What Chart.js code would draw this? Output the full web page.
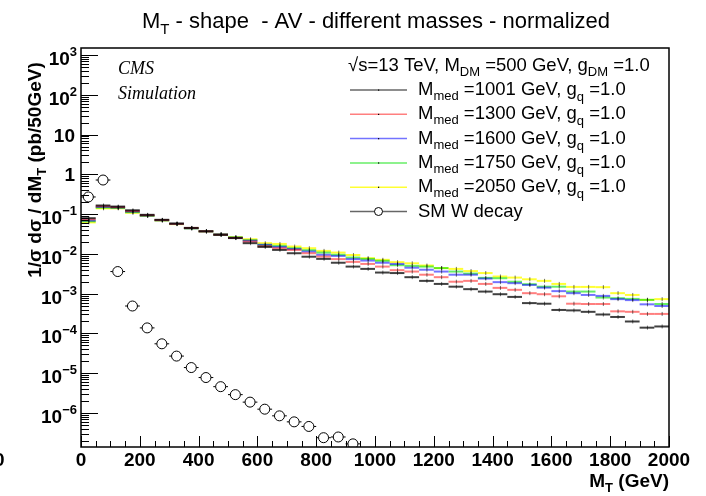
<!DOCTYPE html>
<html><head><meta charset="utf-8">
<script src="https://cdn.jsdelivr.net/npm/chart.js@4/dist/chart.umd.min.js"></script>
<style>html,body{margin:0;padding:0;background:#fff;overflow:hidden}canvas{display:block}</style>
</head><body>
<canvas id="c" width="706" height="496"></canvas>
<script>
// ---------- DATA ----------
const binCenters = [25,75,125,175,225,275,325,375,425,475,525,575,625,675,725,775,825,875,925,975,
  1025,1075,1125,1175,1225,1275,1325,1375,1425,1475,1525,1575,1625,1675,1725,1775,1825,1875,1925,1975];

const mmed1001 = [0.079,0.165,0.155,0.125,0.096,0.072,0.058,0.045,0.037,0.030,0.025,0.0186,0.015,0.0126,0.0104,0.0085,
  0.0075,0.0060,0.0048,0.0042,0.0034,0.0033,0.0026,0.0021,0.00176,0.0015,0.0013,0.00113,0.00097,0.00083,
  0.00058,0.00056,0.00039,0.00038,0.00035,0.00030,0.00026,0.00020,0.00014,0.00015];
const mmed1300 = [0.074,0.158,0.150,0.120,0.094,0.071,0.057,0.045,0.037,0.0305,0.0252,0.0204,0.0156,0.0139,0.0126,0.0104,
  0.00855,0.0074,0.0063,0.0056,0.0048,0.0039,0.0036,0.0030,0.0026,0.0020,0.0021,0.00176,0.0014,0.00125,
  0.00103,0.00097,0.00086,0.00056,0.00055,0.00055,0.00036,0.00035,0.00031,0.00031];
const mmed1600 = [0.069,0.152,0.147,0.116,0.092,0.070,0.057,0.044,0.037,0.031,0.0255,0.0215,0.017,0.015,0.0132,0.0115,
  0.0095,0.0089,0.0074,0.0068,0.0060,0.0056,0.0045,0.0040,0.0036,0.0030,0.0030,0.0024,0.00195,0.00184,
  0.00166,0.00142,0.00116,0.00103,0.00093,0.00088,0.00073,0.00069,0.00054,0.00049];
const mmed1750 = [0.066,0.146,0.143,0.112,0.091,0.070,0.057,0.044,0.037,0.031,0.026,0.022,0.0168,0.0159,0.0139,0.0124,
  0.0108,0.0095,0.0081,0.0075,0.0067,0.0052,0.0050,0.0048,0.0044,0.0036,0.0032,0.0025,0.00245,0.0020,
  0.00173,0.0015,0.0015,0.00113,0.00113,0.0008,0.00077,0.00074,0.0007,0.00055];
const mmed2050 = [0.062,0.140,0.140,0.108,0.090,0.069,0.056,0.044,0.037,0.031,0.0265,0.0234,0.0186,0.0178,0.0153,0.0139,
  0.0119,0.0108,0.0094,0.0078,0.0071,0.0062,0.0058,0.0051,0.0044,0.0042,0.0037,0.0033,0.0027,0.00254,
  0.0023,0.0021,0.00176,0.00148,0.00148,0.00146,0.00103,0.00093,0.0007,0.00073];

const smCenters = [25,75,125,175,225,275,325,375,425,475,525,575,625,675,725,775,825,875,925];
const smWdecay = [0.27,0.72,0.0036,0.00049,0.000138,5.5e-5,2.7e-5,1.39e-5,7.8e-6,4.6e-6,2.9e-6,1.88e-6,1.25e-6,
  8.5e-7,6.0e-7,4.6e-7,2.4e-7,2.5e-7,1.68e-7];

const seriesLabels = ['=1001 GeV, g', '=1300 GeV, g', '=1600 GeV, g', '=1750 GeV, g', '=2050 GeV, g'];
const xTickValues = [0,200,400,600,800,1000,1200,1400,1600,1800,2000];
const xTickLabels = ['0','200','400','600','800','1000','1200','1400','1600','1800','2000'];
const yTickValues = [1e-6,1e-5,1e-4,1e-3,1e-2,1e-1,1,10,100,1000];
const yTickBase   = ['10','10','10','10','10','10','1','10','10','10'];
const yTickExp    = ['\u22126','\u22125','\u22124','\u22123','\u22122','\u22121','','','2','3'];

const binWidth = 50;
const colors = ['rgba(0,0,0,0.75)','rgba(255,0,0,0.5)','rgba(0,0,255,0.55)','rgba(0,225,0,0.6)','rgba(255,255,0,0.8)'];
const legendColors = ['rgba(0,0,0,0.6)','rgba(255,0,0,0.5)','rgba(0,0,255,0.55)','rgba(0,225,0,0.6)','rgba(255,255,0,0.8)'];
const seriesData = [mmed1001, mmed1300, mmed1600, mmed1750, mmed2050];

// ---------- HELPERS ----------
const SANS = '"Liberation Sans", Arial, Helvetica, sans-serif';
const SERIF = '"Liberation Serif", "Times New Roman", serif';
function richWidth(ctx, parts){ let w=0; for(const p of parts){ ctx.font=p.f; w+=ctx.measureText(p.t).width; } return w; }
function drawRich(ctx, parts, x, y, align){
  const w = richWidth(ctx, parts);
  let cx = align==='right' ? x-w : (align==='center' ? x-w/2 : x);
  ctx.textAlign='left'; ctx.textBaseline='alphabetic';
  for(const p of parts){ ctx.font=p.f; ctx.fillText(p.t, cx, y+(p.dy||0)); cx+=ctx.measureText(p.t).width; }
}
const halfBin = (c) => { const s=c.chart.scales.x; return (s.getPixelForValue(binWidth)-s.getPixelForValue(0))/2; };

// ---------- DATASETS ----------
const datasets = [];
datasets.push({ label:'SM W decay', data: smCenters.map((x,i)=>({x, y: smWdecay[i]})),
  pointStyle:'circle', pointRadius:5, pointBackgroundColor:'#fff', pointBorderColor:'#000', pointBorderWidth:1, showLine:false });
datasets.push({ label:'SM W stub', data: smCenters.map((x,i)=>({x, y: smWdecay[i]})),
  pointStyle:'line', pointRadius: halfBin, pointBorderColor:'#000', pointBorderWidth:1, showLine:false });
seriesData.forEach((arr, k) => {
  datasets.push({ label: seriesLabels[k], data: binCenters.map((x,i)=>({x, y: arr[i]})), isSignal:true,
    pointStyle:'line', pointRadius: halfBin, pointBorderColor: colors[k], pointBackgroundColor: colors[k],
    pointBorderWidth:2, showLine:false });
});

// ---------- PLUGIN ----------
const rootPlugin = {
  id:'rootStyle',
  afterDatasetsDraw(chart){
    const ctx = chart.ctx; const ca = chart.chartArea;
    ctx.save();
    ctx.beginPath(); ctx.rect(ca.left, ca.top, ca.right-ca.left, ca.bottom-ca.top); ctx.clip();
    chart.data.datasets.forEach((ds, di) => {
      if(!ds.isSignal) return;
      const meta = chart.getDatasetMeta(di);
      meta.data.forEach(pt => {
        ctx.strokeStyle='rgba(0,0,0,0.55)'; ctx.lineWidth=1;
        ctx.beginPath(); ctx.moveTo(pt.x+0.5, pt.y-2); ctx.lineTo(pt.x+0.5, pt.y+2); ctx.stroke();
      });
    });
    ctx.restore();
  },
  afterDraw(chart){
    const ctx = chart.ctx; const ca = chart.chartArea;
    const xs = chart.scales.x, ys = chart.scales.y;
    ctx.save();
    ctx.fillStyle='#000'; ctx.strokeStyle='#000';
    // frame
    ctx.lineWidth=1.5;
    ctx.strokeRect(ca.left, ca.top, ca.right-ca.left, ca.bottom-ca.top);
    // x ticks
    ctx.lineWidth=1;
    ctx.beginPath();
    for(let v=0; v<=2000; v+=50){
      const px = Math.round(xs.getPixelForValue(v))+0.5;
      const len = (v%200===0) ? 11 : 6;
      ctx.moveTo(px, ca.bottom); ctx.lineTo(px, ca.bottom-len);
    }
    // y ticks
    for(let e=-7; e<=3; e++){
      for(let k=1; k<=9; k++){
        const v = k*Math.pow(10,e);
        if(v < ys.min || v > ys.max) continue;
        const py = Math.round(ys.getPixelForValue(v))+0.5;
        const len = (k===1) ? 17 : 8;
        ctx.moveTo(ca.left, py); ctx.lineTo(ca.left+len, py);
      }
    }
    ctx.stroke();
    // x tick labels
    const B19 = 'bold 19px '+SANS, B13 = 'bold 13px '+SANS;
    ctx.font = B19; ctx.textAlign='center'; ctx.textBaseline='alphabetic';
    xTickValues.forEach((v,i)=>{ ctx.fillText(xTickLabels[i], xs.getPixelForValue(v), 466); });
    // clipped stray label at far left
    ctx.textAlign='left'; ctx.fillText('0', -6, 466);
    // y tick labels
    yTickValues.forEach((v,i)=>{
      const py = ys.getPixelForValue(v);
      if(yTickExp[i]){
        drawRich(ctx, [{t:yTickBase[i], f:B19},{t:yTickExp[i], f:B13, dy:-9}], 77, py+10, 'right');
      } else {
        drawRich(ctx, [{t:yTickBase[i], f:B19}], 75, py+7, 'right');
      }
    });
    // x title
    drawRich(ctx, [{t:'M', f:B19},{t:'T', f:B13, dy:5},{t:' (GeV)', f:B19}], ca.right, 487, 'right');
    // y title
    ctx.save(); ctx.translate(41, 170); ctx.rotate(-Math.PI/2);
    drawRich(ctx, [{t:'1/\u03c3 d\u03c3 / dM', f:B19},{t:'T', f:B13, dy:5},{t:' (pb/50GeV)', f:B19}], 0, 0, 'center');
    ctx.restore();
    // main title
    const N22 = '22px '+SANS, N15 = '15px '+SANS;
    drawRich(ctx, [{t:'M', f:N22},{t:'T', f:N15, dy:6},{t:' - shape  - AV - different masses - normalized', f:N22}], 376, 28, 'center');
    // CMS Simulation
    ctx.font = 'italic 18px '+SERIF; ctx.textAlign='left';
    ctx.fillText('CMS', 118, 74); ctx.fillText('Simulation', 118, 99);
    // legend
    const N18 = '18.5px '+SANS, N13 = '13px '+SANS;
    drawRich(ctx, [{t:'\u221as=13 TeV, M', f:N18},{t:'DM', f:N13, dy:5},{t:' =500 GeV, g', f:N18},{t:'DM', f:N13, dy:5},{t:' =1.0', f:N18}], 348, 71, 'left');
    const lx0 = 350, lx1 = 407, tx = 418;
    for(let k=0; k<5; k++){
      const by = 95 + k*24.3, ly = by-5;
      ctx.strokeStyle = legendColors[k]; ctx.lineWidth=1.5;
      ctx.beginPath(); ctx.moveTo(lx0, ly); ctx.lineTo(lx1, ly); ctx.stroke();
      ctx.fillStyle='#000'; ctx.fillRect((lx0+lx1)/2-0.5, ly-0.5, 1.2, 1.2);
      drawRich(ctx, [{t:'M', f:N18},{t:'med', f:N13, dy:5},{t:' '+seriesLabels[k], f:N18},{t:'q', f:N13, dy:6},{t:' =1.0', f:N18}], tx, by, 'left');
    }
    const by = 95 + 5*24.3, ly = by-5;
    ctx.strokeStyle='rgba(0,0,0,0.6)'; ctx.lineWidth=1.5;
    ctx.beginPath(); ctx.moveTo(lx0, ly); ctx.lineTo(lx1, ly); ctx.stroke();
    ctx.fillStyle='#fff'; ctx.strokeStyle='#000'; ctx.lineWidth=1;
    ctx.beginPath(); ctx.arc((lx0+lx1)/2, ly, 4, 0, Math.PI*2); ctx.fill(); ctx.stroke();
    ctx.fillStyle='#000';
    drawRich(ctx, [{t:'SM W decay', f:N18}], tx, by, 'left');
    ctx.restore();
  }
};

new Chart(document.getElementById('c'), {
  type:'scatter',
  data:{ datasets },
  options:{
    responsive:false, animation:false,
    layout:{ padding:{ left:81, right:37, top:48, bottom:49 } },
    plugins:{ legend:{display:false}, tooltip:{enabled:false}, title:{display:false} },
    scales:{
      x:{ type:'linear', min:0, max:2000, bounds:'data', display:false },
      y:{ type:'logarithmic', min:1.4e-7, max:1500, bounds:'data', display:false }
    }
  },
  plugins:[rootPlugin]
});
</script>
</body></html>
